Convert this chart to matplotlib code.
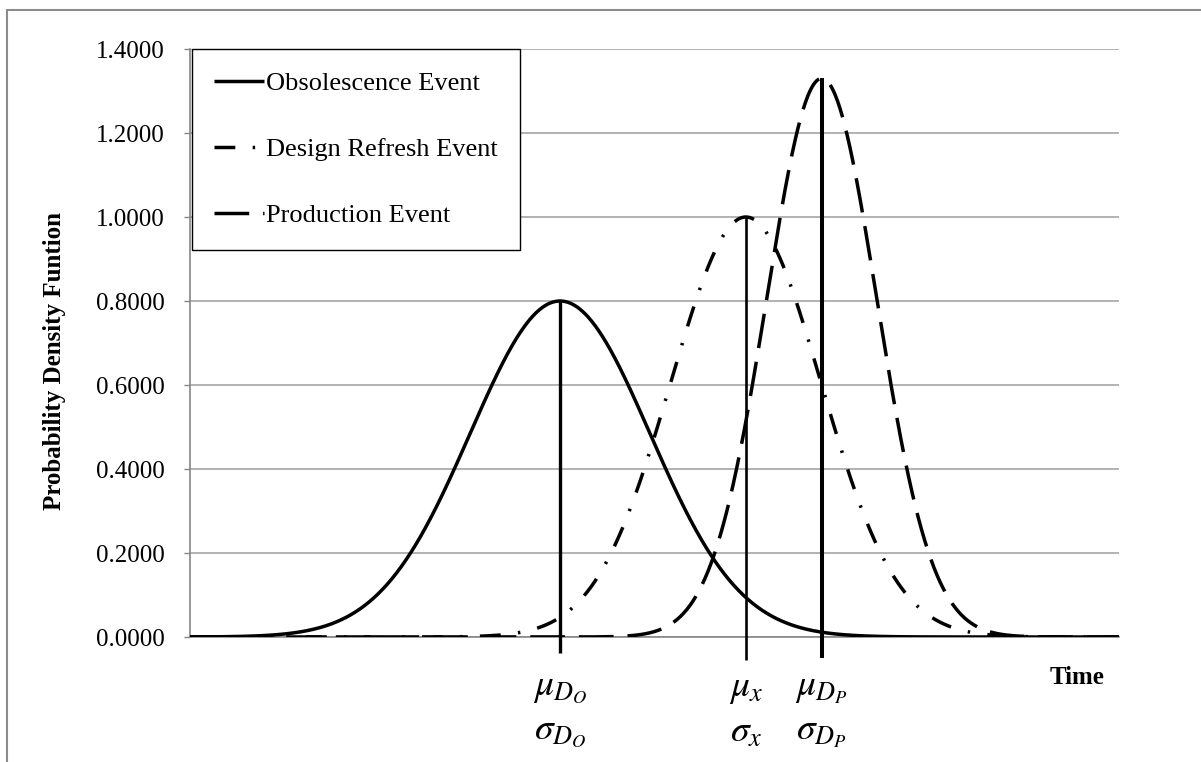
import numpy as np
import matplotlib.pyplot as plt
from matplotlib.patches import Rectangle
from matplotlib.transforms import blended_transform_factory

plt.rcParams['font.family'] = ['Liberation Serif', 'DejaVu Serif']
plt.rcParams['mathtext.fontset'] = 'stix'

# curve parameters (time axis runs 0..6)
events = ['Obsolescence Event', 'Design Refresh Event', 'Production Event']
means = [2.39, 3.59, 4.08]
spreads = [0.58, 0.485, 0.355]
peaks = [0.80, 1.00, 1.33]
mu_labels = [r'$\mu_{D_O}$', r'$\mu_x$', r'$\mu_{D_P}$']
sigma_labels = [r'$\sigma_{D_O}$', r'$\sigma_x$', r'$\sigma_{D_P}$']
yticks = [0.0, 0.2, 0.4, 0.6, 0.8, 1.0, 1.2, 1.4]

styles = ['-', (0, (6, 5, 0.7, 5)), (0, (10, 4))]
stem_widths = [2.4, 1.9, 2.9]
stem_bottoms = [-0.038, -0.055, -0.05]

fig = plt.figure(figsize=(12.01, 7.62), dpi=100)
ax = fig.add_axes([190 / 1201, 1 - 637 / 762, 929 / 1201, 588 / 762])

t = np.linspace(0, 6, 1200)
for name, mu, sd, pk, ls in zip(events, means, spreads, peaks, styles):
    ax.plot(t, pk * np.exp(-0.5 * ((t - mu) / sd) ** 2), color='black',
            lw=2.5, ls=ls, label=name, solid_capstyle='butt', zorder=3)

# mean markers
for mu, pk, lw, yb in zip(means, peaks, stem_widths, stem_bottoms):
    ax.plot([mu, mu], [yb, pk], color='black', lw=lw, clip_on=False,
            solid_capstyle='butt', zorder=4)

ax.set_xlim(0, 6)
ax.set_ylim(0, 1.4)
ax.set_yticks(yticks)
ax.set_yticklabels(['%.4f' % v for v in yticks], fontsize=18)
ax.set_xticks([])
ax.tick_params(axis='y', length=4, width=1, color='#868686', pad=14, direction='out')
ax.grid(axis='y', color='#a6a6a6', lw=1.2)
ax.set_axisbelow(True)
for side in ['top', 'right']:
    ax.spines[side].set_visible(False)
for side in ['left', 'bottom']:
    ax.spines[side].set_color('#868686')
    ax.spines[side].set_linewidth(1.2)

leg = ax.legend(loc='upper left', bbox_to_anchor=(0.002, 1.0), borderaxespad=0,
                fontsize=19, handlelength=1.9, handletextpad=0.05,
                labelspacing=1.62, borderpad=0.85, fancybox=False,
                framealpha=1, edgecolor='black')
leg.get_frame().set_linewidth(1.0)

# labels under each mean line
tr = blended_transform_factory(ax.transData, fig.transFigure)
for mu, ml, sl in zip(means, mu_labels, sigma_labels):
    ax.text(mu, 1 - 689 / 762, ml, transform=tr, ha='center', va='center', fontsize=27)
    ax.text(mu, 1 - 733 / 762, sl, transform=tr, ha='center', va='center', fontsize=27)

fig.text(1077 / 1201, 1 - 677 / 762, 'Time', fontsize=18, fontweight='bold',
         ha='center', va='center')
fig.text(55 / 1201, 1 - 361 / 762, 'Probability Density Funtion', fontsize=18,
         fontweight='bold', rotation=90, ha='center', va='center')

# outer chart border
fig.patches.append(Rectangle((7 / 1201, -0.05), 1.1, 1 - 10 / 762 + 0.05,
                             transform=fig.transFigure, fill=False,
                             edgecolor='#8c8c8c', lw=1.5))

fig.savefig('out.png', dpi=100)
